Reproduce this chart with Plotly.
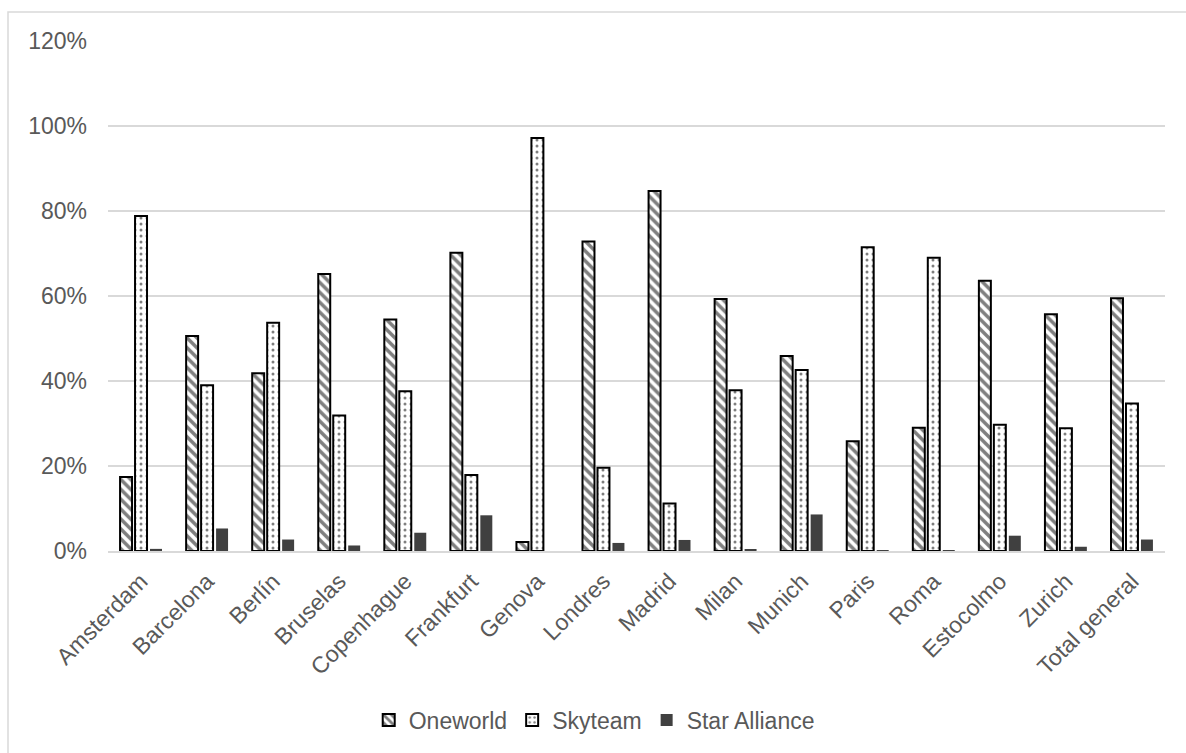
import plotly.graph_objects as go

cities = ["Amsterdam", "Barcelona", "Berlín", "Bruselas", "Copenhague", "Frankfurt",
          "Genova", "Londres", "Madrid", "Milan", "Munich", "Paris", "Roma",
          "Estocolmo", "Zurich", "Total general"]
oneworld = [0.174, 0.506, 0.418, 0.652, 0.545, 0.702, 0.021, 0.728, 0.847, 0.593,
            0.459, 0.258, 0.290, 0.636, 0.557, 0.595]
skyteam = [0.788, 0.390, 0.537, 0.319, 0.376, 0.179, 0.972, 0.196, 0.112, 0.378,
           0.426, 0.715, 0.690, 0.297, 0.289, 0.347]
star = [0.005, 0.053, 0.027, 0.013, 0.043, 0.084, 0.0, 0.019, 0.026, 0.003,
        0.086, 0.001, 0.002, 0.036, 0.010, 0.027]
y_ticks = [0, 0.2, 0.4, 0.6, 0.8, 1.0, 1.2]
y_tick_labels = ["0%", "20%", "40%", "60%", "80%", "100%", "120%"]

FONT = "Liberation Sans, Arial, sans-serif"
GRAY = "#595959"
FS = 23

fig = go.Figure()
fig.add_trace(go.Bar(
    name="Oneworld", x=cities, y=oneworld,
    marker=dict(color="white", line=dict(color="black", width=2),
                pattern=dict(shape="\\", fgcolor="black", bgcolor="white",
                             size=7, solidity=0.5)),
))
fig.add_trace(go.Bar(
    name="Skyteam", x=cities, y=skyteam,
    marker=dict(color="white", line=dict(color="black", width=2),
                pattern=dict(shape=".", fgcolor="black", bgcolor="white",
                             size=6, solidity=0.2)),
))
fig.add_trace(go.Bar(
    name="Star Alliance", x=cities, y=star,
    marker=dict(color="#404040", line=dict(color="#404040", width=0)),
))

# page-pixel geometry (body margin removed below)
L, T, PW, PH = 108, 41, 1057, 510
W, H = 1186, 753

fig.update_layout(
    width=W, height=H,
    paper_bgcolor="white", plot_bgcolor="white",
    margin=dict(l=L, r=W - L - PW, t=T, b=H - T - PH, autoexpand=False),
    barmode="group", bargap=0.32, bargroupgap=0.2,
    font=dict(family=FONT, color=GRAY, size=FS),
    showlegend=True,
    legend=dict(orientation="h", x=0.46, xanchor="center",
                yref="container", y=(H - 720) / H, yanchor="middle",
                font=dict(family=FONT, size=FS, color=GRAY),
                itemwidth=30, traceorder="normal"),
    xaxis=dict(tickangle=-45, tickfont=dict(family=FONT, size=FS, color=GRAY),
               showline=True, linecolor="#d9d9d9", linewidth=1.5, ticks="",
               showgrid=False, ticklabelstandoff=6, automargin=False),
    yaxis=dict(range=[0, 1.2], tickvals=y_ticks, ticktext=y_tick_labels,
               tickfont=dict(family=FONT, size=FS, color=GRAY),
               showgrid=True, gridcolor="#d9d9d9", gridwidth=1.5,
               zeroline=False, showline=False, ticks="", ticklabelstandoff=20,
               automargin=False),
    shapes=[dict(type="rect", xref="paper", yref="paper",
                 x0=-(L - 8) / PW, x1=1.3, y0=-0.9, y1=(T + PH - 12) / PH,
                 line=dict(color="#d9d9d9", width=1.5), fillcolor="rgba(0,0,0,0)",
                 layer="below")],
)

fig.write_html("out.html",
               config={"displayModeBar": False},
               post_script="document.body.style.margin='0';document.body.style.overflow='hidden';")
